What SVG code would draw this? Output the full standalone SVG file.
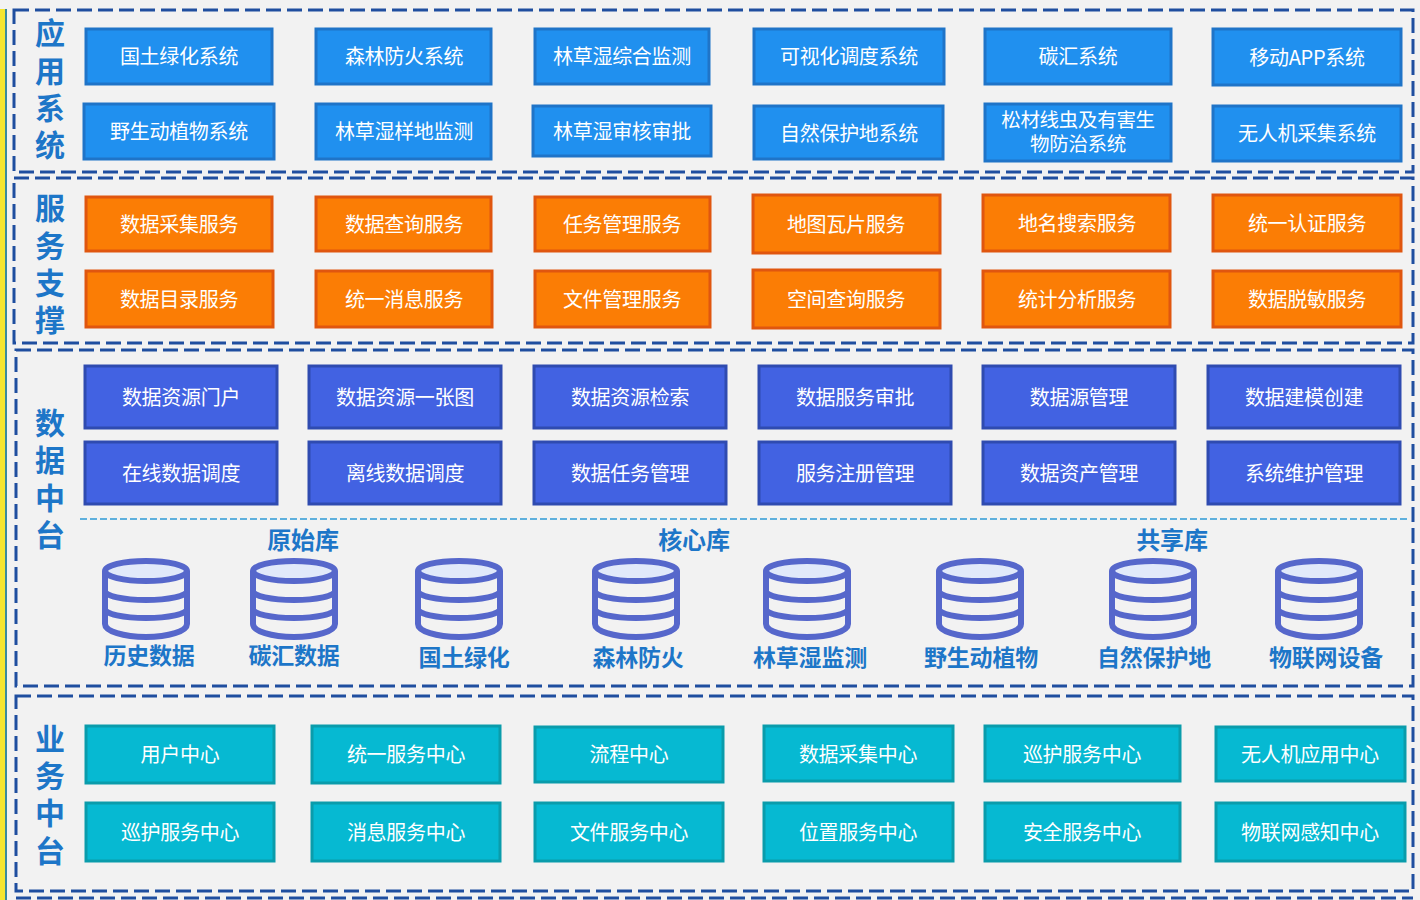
<svg xmlns="http://www.w3.org/2000/svg" width="1420" height="900" viewBox="0 0 1420 900">
<style>
text{font-family:"Noto Sans CJK SC","Microsoft YaHei",sans-serif;text-anchor:middle}
.n rect{stroke-width:3}
.n text{font-size:20px;fill:#fff;letter-spacing:-.3px}
.a rect{fill:#2090ef;stroke:#1f74c8}
.s rect{fill:#fb7d05;stroke:#e0560f}
.d rect{fill:#4262e2;stroke:#2f4bb0}
.b rect{fill:#06b9d2;stroke:#0a9cab}
.frame{fill:none;stroke:#1f4e9f;stroke-width:3;stroke-dasharray:15 6}
.side{font-size:30px;font-weight:700;fill:#1d76c8}
.lib{font-size:23px;font-weight:700;fill:#1d76c8;letter-spacing:-.2px}
.h{font-size:24px}
.db{fill:none;stroke:#5667cb;stroke-width:6}
</style>
<defs>
<g id="cyl">
<ellipse class="db" cx="44" cy="13" rx="41" ry="10" style="fill:#e1e9fa"/>
<path class="db" d="M3 13V66A41 13 0 0 0 85 66V13M3 33A41 9 0 0 0 85 33M3 51A41 9 0 0 0 85 51"/>
</g>
</defs>
<rect width="1420" height="900" fill="#f2f2f2"/>
<rect x="0" y="9" width="5" height="891" fill="#f5e52e"/>
<rect x="5" y="9" width="2" height="891" fill="#3a8a9c"/>
<g id="frames">
<rect class="frame" x="14" y="10" width="1399" height="162"/>
<rect class="frame" x="14" y="178" width="1399" height="165"/>
<rect class="frame" x="16" y="350" width="1397" height="336"/>
<rect class="frame" x="16" y="696" width="1397" height="195"/>
<line class="frame" x1="16" y1="898" x2="1413" y2="898"/>
<line x1="80" y1="519" x2="1410" y2="519" stroke="#2e9bd6" stroke-width="1.5" stroke-dasharray="7 3"/>
</g>
<g id="labels">
<g class="side"><text x="50" y="44">应</text><text x="50" y="82">用</text><text x="50" y="119">系</text><text x="50" y="156">统</text></g>
<g class="side"><text x="50" y="219">服</text><text x="50" y="257">务</text><text x="50" y="294">支</text><text x="50" y="331">撑</text></g>
<g class="side"><text x="50" y="434">数</text><text x="50" y="471">据</text><text x="50" y="509">中</text><text x="50" y="546">台</text></g>
<g class="side"><text x="50" y="750">业</text><text x="50" y="787">务</text><text x="50" y="824">中</text><text x="50" y="862">台</text></g>
</g>
<g id="app" class="n a">
<g id="a1"><rect x="86" y="29" width="186" height="55"/><text x="179" y="64">国土绿化系统</text></g>
<g id="a2"><rect x="316" y="29" width="175" height="55"/><text x="404" y="64">森林防火系统</text></g>
<g id="a3"><rect x="535" y="29" width="174" height="55"/><text x="622" y="64">林草湿综合监测</text></g>
<g id="a4"><rect x="754" y="29" width="190" height="55"/><text x="849" y="64">可视化调度系统</text></g>
<g id="a5"><rect x="985" y="29" width="186" height="55"/><text x="1078" y="64">碳汇系统</text></g>
<g id="a6"><rect x="1213" y="29" width="188" height="56"/><text x="1307" y="65">移动APP系统</text></g>
<g id="a7"><rect x="84" y="104" width="190" height="55"/><text x="179" y="139">野生动植物系统</text></g>
<g id="a8"><rect x="316" y="104" width="175" height="55"/><text x="404" y="139">林草湿样地监测</text></g>
<g id="a9"><rect x="533" y="106" width="178" height="50"/><text x="622" y="139">林草湿审核审批</text></g>
<g id="a10"><rect x="754" y="106" width="189" height="53"/><text x="849" y="141">自然保护地系统</text></g>
<g id="a11"><rect x="985" y="104" width="186" height="57"/><text x="1078" y="127" style="font-size:19.5px">松材线虫及有害生</text><text x="1078" y="151" style="font-size:19.5px">物防治系统</text></g>
<g id="a12"><rect x="1213" y="106" width="188" height="55"/><text x="1307" y="141">无人机采集系统</text></g>
</g>
<g id="service" class="n s">
<g id="s1"><rect x="86" y="197" width="186" height="54"/><text x="179" y="232">数据采集服务</text></g>
<g id="s2"><rect x="316" y="197" width="175" height="54"/><text x="404" y="232">数据查询服务</text></g>
<g id="s3"><rect x="535" y="197" width="175" height="54"/><text x="622" y="232">任务管理服务</text></g>
<g id="s4"><rect x="753" y="195" width="187" height="58"/><text x="846" y="232">地图瓦片服务</text></g>
<g id="s5"><rect x="983" y="195" width="187" height="56"/><text x="1077" y="231">地名搜索服务</text></g>
<g id="s6"><rect x="1213" y="195" width="188" height="56"/><text x="1307" y="231">统一认证服务</text></g>
<g id="s7"><rect x="86" y="271" width="187" height="56"/><text x="179" y="307">数据目录服务</text></g>
<g id="s8"><rect x="316" y="271" width="176" height="56"/><text x="404" y="307">统一消息服务</text></g>
<g id="s9"><rect x="535" y="271" width="175" height="56"/><text x="622" y="307">文件管理服务</text></g>
<g id="s10"><rect x="753" y="270" width="187" height="58"/><text x="846" y="307">空间查询服务</text></g>
<g id="s11"><rect x="983" y="271" width="187" height="56"/><text x="1077" y="307">统计分析服务</text></g>
<g id="s12"><rect x="1213" y="271" width="188" height="56"/><text x="1307" y="307">数据脱敏服务</text></g>
</g>
<g id="data" class="n d">
<g id="d1"><rect x="85" y="366" width="192" height="62"/><text x="181" y="405">数据资源门户</text></g>
<g id="d2"><rect x="309" y="366" width="192" height="62"/><text x="405" y="405">数据资源一张图</text></g>
<g id="d3"><rect x="534" y="366" width="192" height="62"/><text x="630" y="405">数据资源检索</text></g>
<g id="d4"><rect x="759" y="366" width="192" height="62"/><text x="855" y="405">数据服务审批</text></g>
<g id="d5"><rect x="983" y="366" width="192" height="62"/><text x="1079" y="405">数据源管理</text></g>
<g id="d6"><rect x="1208" y="366" width="192" height="62"/><text x="1304" y="405">数据建模创建</text></g>
<g id="d7"><rect x="85" y="442" width="192" height="62"/><text x="181" y="481">在线数据调度</text></g>
<g id="d8"><rect x="309" y="442" width="192" height="62"/><text x="405" y="481">离线数据调度</text></g>
<g id="d9"><rect x="534" y="442" width="192" height="62"/><text x="630" y="481">数据任务管理</text></g>
<g id="d10"><rect x="759" y="442" width="192" height="62"/><text x="855" y="481">服务注册管理</text></g>
<g id="d11"><rect x="983" y="442" width="192" height="62"/><text x="1079" y="481">数据资产管理</text></g>
<g id="d12"><rect x="1208" y="442" width="192" height="62"/><text x="1304" y="481">系统维护管理</text></g>
</g>
<g id="libs" class="lib">
<text class="h" x="303" y="549">原始库</text><text class="h" x="694" y="549">核心库</text><text class="h" x="1172" y="549">共享库</text>
<g id="db1"><use href="#cyl" x="102" y="558"/><text x="149" y="664">历史数据</text></g>
<g id="db2"><use href="#cyl" x="250" y="558"/><text x="294" y="664">碳汇数据</text></g>
<g id="db3"><use href="#cyl" x="415" y="558"/><text x="464" y="666">国土绿化</text></g>
<g id="db4"><use href="#cyl" x="592" y="558"/><text x="638" y="666">森林防火</text></g>
<g id="db5"><use href="#cyl" x="763" y="558"/><text x="810" y="666">林草湿监测</text></g>
<g id="db6"><use href="#cyl" x="936" y="558"/><text x="981" y="666">野生动植物</text></g>
<g id="db7"><use href="#cyl" x="1109" y="558"/><text x="1154" y="666">自然保护地</text></g>
<g id="db8"><use href="#cyl" x="1275" y="558"/><text x="1326" y="666">物联网设备</text></g>
</g>
<g id="biz" class="n b">
<g id="b1"><rect x="86" y="726" width="188" height="57"/><text x="180" y="762">用户中心</text></g>
<g id="b2"><rect x="312" y="726" width="188" height="57"/><text x="406" y="762">统一服务中心</text></g>
<g id="b3"><rect x="535" y="727" width="188" height="55"/><text x="629" y="762">流程中心</text></g>
<g id="b4"><rect x="764" y="726" width="189" height="55"/><text x="858" y="762">数据采集中心</text></g>
<g id="b5"><rect x="985" y="726" width="195" height="55"/><text x="1082" y="762">巡护服务中心</text></g>
<g id="b6"><rect x="1216" y="727" width="189" height="54"/><text x="1310" y="762">无人机应用中心</text></g>
<g id="b7"><rect x="86" y="803" width="188" height="58"/><text x="180" y="840">巡护服务中心</text></g>
<g id="b8"><rect x="312" y="803" width="188" height="58"/><text x="406" y="840">消息服务中心</text></g>
<g id="b9"><rect x="535" y="803" width="188" height="58"/><text x="629" y="840">文件服务中心</text></g>
<g id="b10"><rect x="764" y="803" width="189" height="58"/><text x="858" y="840">位置服务中心</text></g>
<g id="b11"><rect x="985" y="803" width="195" height="58"/><text x="1082" y="840">安全服务中心</text></g>
<g id="b12"><rect x="1216" y="803" width="189" height="58"/><text x="1310" y="840">物联网感知中心</text></g>
</g>
</svg>
